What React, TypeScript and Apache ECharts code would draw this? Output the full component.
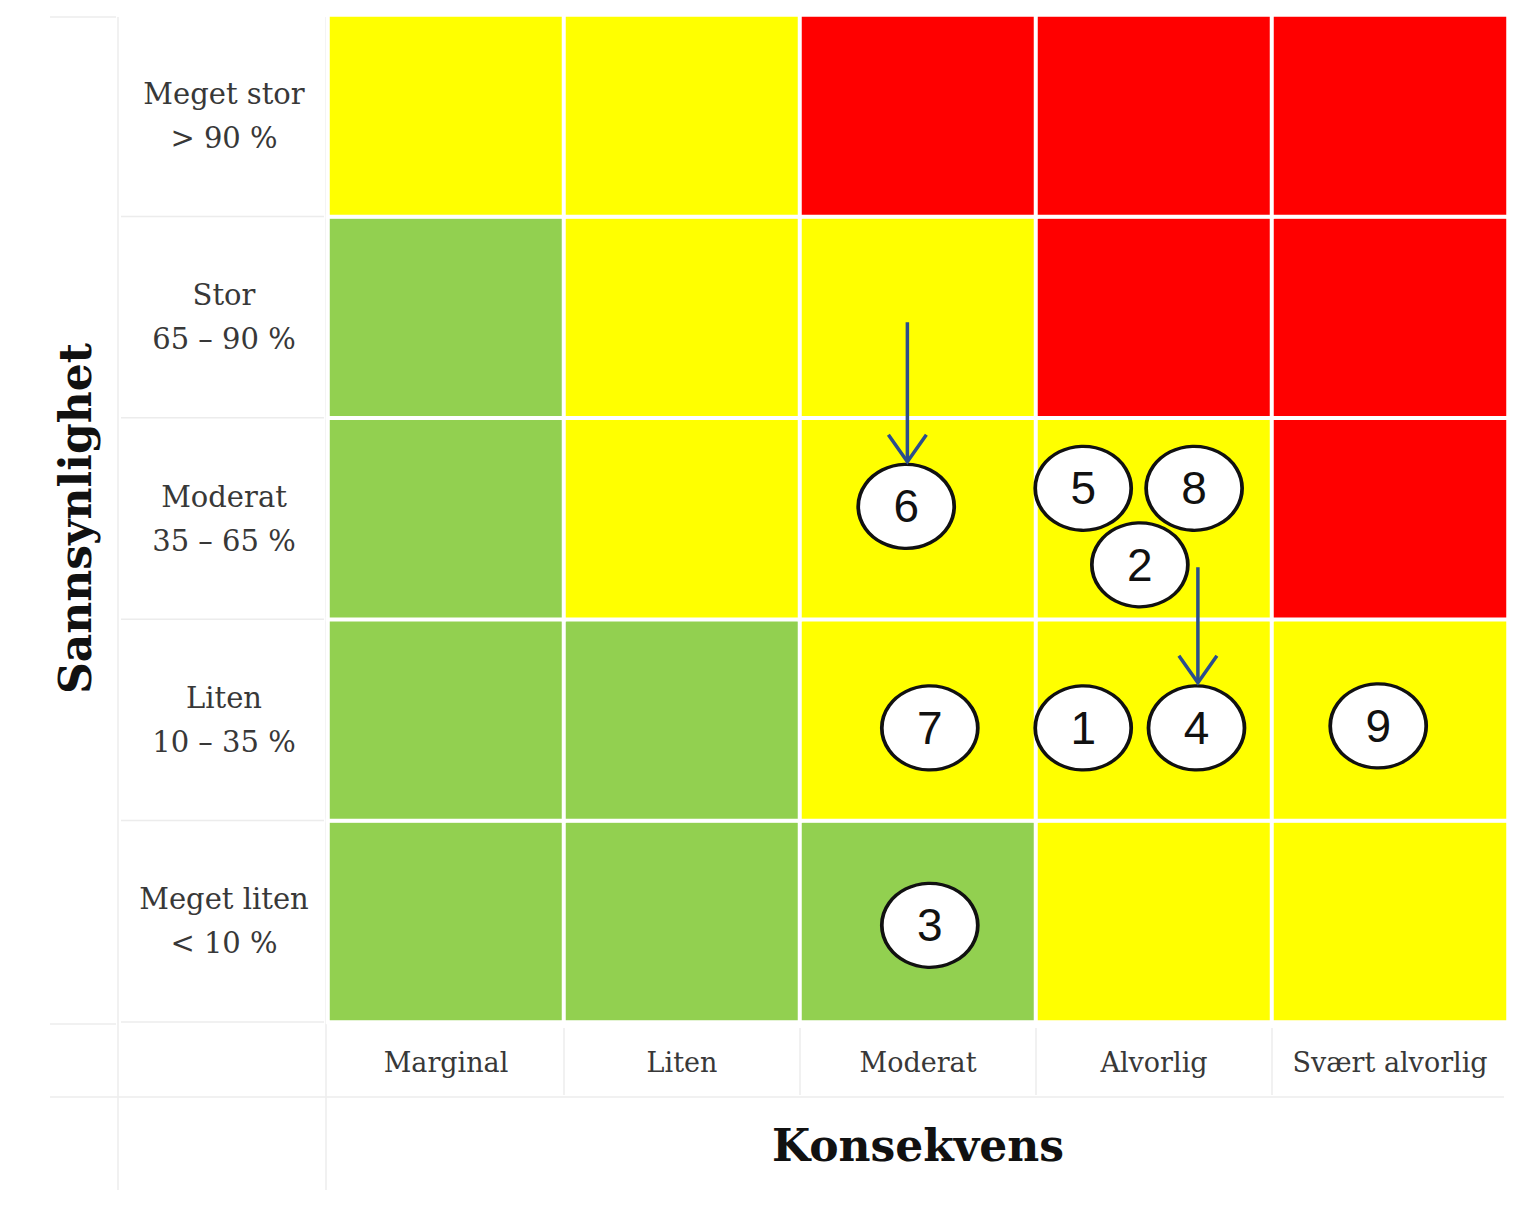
import React, { useEffect, useRef } from "react";
import * as echarts from "echarts";

// Consequence categories (x) and probability categories (y, bottom to top)
const consequences = ["Marginal", "Liten", "Moderat", "Alvorlig", "Svært alvorlig"];
const probabilities = [
  "Meget liten\n< 10 %",
  "Liten\n10 – 35 %",
  "Moderat\n35 – 65 %",
  "Stor\n65 – 90 %",
  "Meget stor\n> 90 %",
];

// Risk level per row (bottom to top), per column: 0 = green, 1 = yellow, 2 = red
const riskMeget_liten = [0, 0, 0, 1, 1];
const riskLiten = [0, 0, 1, 1, 1];
const riskModerat = [0, 1, 1, 1, 2];
const riskStor = [0, 1, 1, 2, 2];
const riskMeget_stor = [1, 1, 2, 2, 2];
const riskRows = [riskMeget_liten, riskLiten, riskModerat, riskStor, riskMeget_stor];

// Risk markers: [consequence position, probability position, id] (0..5 scale)
const markers: [number, number, number][] = [
  [3.2, 1.46, 1],
  [3.44, 2.27, 2],
  [2.55, 0.48, 3],
  [3.68, 1.46, 4],
  [3.2, 2.65, 5],
  [2.45, 2.56, 6],
  [2.55, 1.46, 7],
  [3.67, 2.65, 8],
  [4.45, 1.47, 9],
];

// Arrows: [x, yFrom, yTo] (0..5 scale)
const arrows: [number, number, number][] = [
  [2.455, 3.475, 2.782],
  [3.686, 2.258, 1.685],
];

const GRID_LEFT = 328;
const GRID_RIGHT = 1508;
const GRID_TOP = 15;
const GRID_BOTTOM = 1022;

export default function App() {
  const ref = useRef<HTMLDivElement>(null);

  useEffect(() => {
    if (!ref.current) return;
    const chart = echarts.init(ref.current, undefined, { renderer: "svg" });

    const heatData: [number, number, number][] = [];
    riskRows.forEach((row, yi) => row.forEach((v, xi) => heatData.push([xi, yi, v])));

    const lineColor = "#ececec";
    const colW = (GRID_RIGHT - GRID_LEFT) / 5;
    const rowH = (GRID_BOTTOM - GRID_TOP) / 5;
    const faint: any[] = [];
    const addLine = (x1: number, y1: number, x2: number, y2: number) =>
      faint.push({
        type: "line",
        shape: { x1, y1, x2, y2 },
        style: { stroke: lineColor, lineWidth: 1.5 },
        silent: true,
      });
    addLine(118, 17, 118, 1190);
    addLine(326, 17, 326, 1190);
    addLine(50, 1097, 1504, 1097);
    addLine(50, 17, 116, 17);
    addLine(50, 1024, 116, 1024);
    for (let i = 1; i <= 5; i++) addLine(121, GRID_TOP + rowH * i, 324, GRID_TOP + rowH * i);
    for (let i = 1; i < 5; i++) addLine(GRID_LEFT + colW * i, 1028, GRID_LEFT + colW * i, 1095);

    const arrowColor = "#2B4E8C";

    chart.setOption({
      animation: false,
      backgroundColor: "#ffffff",
      grid: {
        left: GRID_LEFT,
        right: 1523 - GRID_RIGHT,
        top: GRID_TOP,
        bottom: 1229 - GRID_BOTTOM,
      },
      xAxis: [
        {
          type: "category",
          data: consequences,
          axisLine: { show: false },
          axisTick: { show: false },
          splitLine: { show: false },
          axisLabel: {
            interval: 0,
            margin: 40,
            verticalAlign: "middle",
            fontFamily: "DejaVu Serif",
            fontSize: 27,
            color: "#383838",
          },
          name: "Konsekvens",
          nameLocation: "middle",
          nameGap: 98,
          nameTextStyle: {
            fontFamily: "DejaVu Serif",
            fontWeight: "bold",
            fontSize: 44,
            color: "#111111",
            lineHeight: 50,
          },
        },
        { type: "value", min: 0, max: 5, show: false },
      ],
      yAxis: [
        {
          type: "category",
          data: probabilities,
          axisLine: { show: false },
          axisTick: { show: false },
          splitLine: { show: false },
          axisLabel: {
            margin: 104,
            align: "center",
            verticalAlign: "middle",
            fontFamily: "DejaVu Serif",
            fontSize: 29,
            lineHeight: 44,
            color: "#383838",
          },
          name: "Sannsynlighet",
          nameLocation: "middle",
          nameGap: 228,
          nameTextStyle: {
            fontFamily: "DejaVu Serif",
            fontWeight: "bold",
            fontSize: 44,
            color: "#111111",
            lineHeight: 50,
          },
        },
        { type: "value", min: 0, max: 5, show: false },
      ],
      visualMap: {
        show: false,
        type: "piecewise",
        seriesIndex: 0,
        dimension: 2,
        pieces: [
          { value: 0, color: "#92D050" },
          { value: 1, color: "#FFFF00" },
          { value: 2, color: "#FF0000" },
        ],
      },
      graphic: faint,
      series: [
        {
          type: "heatmap",
          data: heatData,
          xAxisIndex: 0,
          yAxisIndex: 0,
          itemStyle: { borderColor: "#ffffff", borderWidth: 4 },
          emphasis: { disabled: true },
          silent: true,
        },
        {
          type: "scatter",
          xAxisIndex: 1,
          yAxisIndex: 1,
          data: markers,
          symbol: "circle",
          symbolSize: [96, 84],
          itemStyle: { color: "#ffffff", borderColor: "#111111", borderWidth: 3.5, opacity: 1 },
          label: {
            show: true,
            position: "inside",
            formatter: (p: any) => String(p.value[2]),
            fontFamily: "Liberation Sans",
            fontSize: 46,
            color: "#111111",
          },
          emphasis: { disabled: true },
          silent: true,
          z: 3,
        },
        {
          type: "custom",
          xAxisIndex: 1,
          yAxisIndex: 1,
          data: arrows,
          silent: true,
          z: 4,
          renderItem: (_params: any, api: any) => {
            const p1 = api.coord([api.value(0), api.value(1)]);
            const p2 = api.coord([api.value(0), api.value(2)]);
            return {
              type: "group",
              children: [
                {
                  type: "line",
                  shape: { x1: p1[0], y1: p1[1], x2: p2[0], y2: p2[1] - 2 },
                  style: { stroke: arrowColor, lineWidth: 3.5 },
                },
                {
                  type: "polyline",
                  shape: {
                    points: [
                      [p2[0] - 19, p2[1] - 27],
                      [p2[0], p2[1]],
                      [p2[0] + 19, p2[1] - 27],
                    ],
                  },
                  style: { stroke: arrowColor, lineWidth: 3.5, fill: null },
                },
              ],
            };
          },
        },
      ],
    });

    return () => chart.dispose();
  }, []);

  return (
    <div
      ref={ref}
      style={{ position: "fixed", left: 0, top: 0, width: 1523, height: 1229, background: "#fff" }}
    />
  );
}
